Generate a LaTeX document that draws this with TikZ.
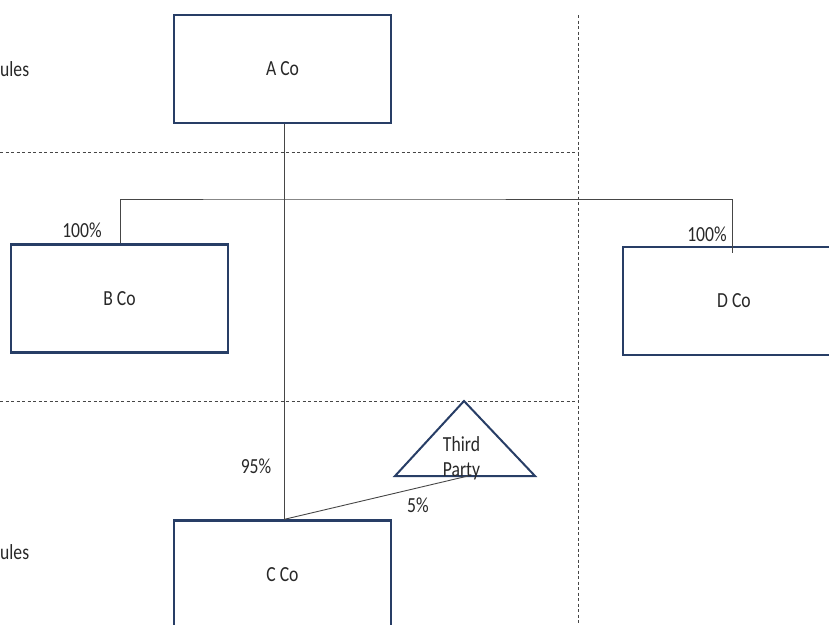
\documentclass[tikz,border=0pt]{standalone}
\usepackage{fontspec}
\setmainfont[FakeStretch=0.82]{Carlito}
\definecolor{boxc}{RGB}{40,62,102}
\definecolor{linec}{RGB}{70,70,70}
\definecolor{txtc}{RGB}{40,40,40}
\begin{document}
\begin{tikzpicture}[x=1pt,y=-1pt,
  co/.style={draw=boxc,line width=2.2pt,fill=white,minimum width=217pt,minimum height=108pt,inner sep=0pt,text=txtc,font=\fontsize{21.5}{24}\selectfont},
  lbl/.style={text=txtc,font=\fontsize{21.5}{24}\selectfont,inner sep=0pt},
  conn/.style={draw=linec,line width=0.9pt},
  sep/.style={draw=linec,line width=0.9pt,dash pattern=on 3pt off 2.5pt}]
\useasboundingbox (0,0) rectangle (829,624);
% dashed separators
\draw[sep] (0,152) -- (578,152);
\draw[sep] (0,401) -- (578,401);
\draw[sep] (578,15) -- (578,624);
% boxes
\node[co] (A) at (282.5,69) {\raisebox{-2pt}{A Co}};
\node[co] (B) at (119.5,298.5) {\raisebox{-2.5pt}{B Co}};
\node[co,minimum width=222pt] (D) at (734,301) {\raisebox{-2pt}{D Co}};
\node[co] (C) at (282.5,574.5) {\raisebox{-2.5pt}{C Co}};
% connectors
\coordinate (bus) at (284,199);
\coordinate (dtop) at (732,253);
\draw[conn] (A.south -| bus) -- (C.north -| bus);
\draw[conn] (B.north -| 120,0) |- (bus) -| (dtop);
% third party triangle
\coordinate (tpL) at (395,476);
\coordinate (tpR) at (535,476);
\coordinate (tpT) at (464,401);
\draw[draw=boxc,line width=2pt,line join=miter] (tpL) -- (tpT) -- (tpR) -- cycle;
\node[lbl,align=center,font=\fontsize{21.5}{25}\selectfont] (tp) at (461.5,458) {Third\\Party};
\coordinate (tpend) at (468,476);
\draw[conn] (C.north -| bus) -- (tpend);
% labels
\node[lbl] (p1) at (82,230) {100\%};
\node[lbl] (p2) at (707,234) {100\%};
\node[lbl] (p3) at (256,466) {95\%};
\node[lbl] (p4) at (418,505) {5\%};
\node[lbl,anchor=west] (r1) at (0,69) {ules};
\node[lbl,anchor=west] (r2) at (0,552) {ules};
\end{tikzpicture}
\end{document}
